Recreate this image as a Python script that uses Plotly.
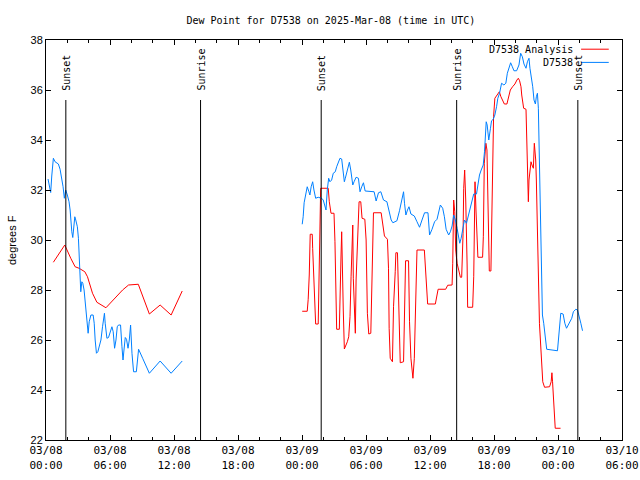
import pandas as pd
import plotly.graph_objects as go

base = pd.Timestamp("2025-03-08 00:00")

# ---- data (hours after 2025-03-08 00:00 UTC, dew point degF) ----
obs1_h = [0.19, 0.28, 0.44, 0.54, 0.69, 0.85, 1.01, 1.16, 1.32, 1.48, 1.60, 1.72, 1.85, 2.00, 2.16,
          2.26, 2.32, 2.42, 2.51, 2.61, 2.70, 2.79, 2.94, 3.04, 3.10, 3.20, 3.26, 3.36, 3.45, 3.57,
          3.67, 3.76, 3.86, 3.95, 4.05, 4.21, 4.42, 4.52, 4.61, 4.73, 4.86, 4.99, 5.15, 5.30, 5.48,
          5.55, 5.71, 5.86, 5.99, 6.18, 6.30, 6.43, 6.56, 6.68, 6.80, 6.99, 7.12, 7.22, 7.31, 7.43,
          7.55, 7.69, 7.81, 7.93, 8.06, 8.21, 8.47, 8.59, 8.68, 9.06, 9.69, 10.70, 11.73, 12.77]
obs1_v = [32.44, 32.27, 31.9, 32.56, 33.27, 33.13, 33.07, 33.04, 32.83, 32.47, 32.13, 31.67, 32.0, 31.8, 31.53,
          31.2, 30.8, 30.33, 30.1, 30.73, 30.93, 30.8, 30.53, 30.07, 29.27, 28.4, 27.93, 28.33, 28.27, 28.0,
          27.6, 27.2, 26.73, 26.27, 26.73, 27.0, 27.0, 26.67, 26.0, 25.47, 25.53, 25.73, 26.0, 26.53, 27.07,
          26.67, 26.07, 26.1, 26.27, 26.53, 26.33, 25.67, 26.0, 26.53, 26.6, 26.6, 25.73, 25.2, 25.6, 26.1,
          26.03, 25.67, 26.0, 26.6, 25.47, 24.73, 24.73, 25.4, 25.63, 25.27, 24.67, 25.16, 24.67, 25.16]

ana1_h = [0.69, 1.76, 2.32, 2.73, 3.10, 3.64, 3.89, 4.36, 4.77, 5.62, 7.18, 7.74, 8.65, 9.69, 10.70, 11.73, 12.77]
ana1_v = [29.11, 29.8, 29.27, 28.93, 28.87, 28.73, 28.53, 27.87, 27.51, 27.29, 28.0, 28.2, 28.23, 27.04, 27.4, 27.0, 27.96]

obs2_h = [24.02, 24.11, 24.20, 24.34, 24.49, 24.65, 24.74, 24.86, 25.00, 25.12, 25.28, 25.52, 25.84, 25.99, 26.15,
          26.25, 26.37, 26.50, 26.62, 26.78, 26.93, 27.12, 27.25, 27.40, 27.56, 27.72, 27.82, 27.97, 28.06, 28.19,
          28.34, 28.44, 28.57, 28.66, 28.76, 28.88, 29.07, 29.29, 29.44, 29.60, 29.76, 29.92, 30.39, 30.76, 30.95,
          31.17, 31.39, 31.64, 31.96, 32.17, 32.36, 32.52, 32.90, 33.14, 33.37, 33.52, 33.61, 33.74, 33.89, 34.03,
          34.21, 34.53, 34.78, 35.02, 35.25, 35.49, 35.81, 35.96, 36.19, 36.43, 36.66, 36.81, 36.97, 37.19, 37.35,
          37.51, 37.75, 37.91, 38.07, 38.22, 38.38, 38.54, 38.69, 38.79, 38.92, 39.11, 39.23, 39.42, 39.73, 39.86,
          39.95, 40.10, 40.36, 40.48, 40.64, 40.80, 40.99, 41.11, 41.20, 41.27, 41.36, 41.51, 41.67, 41.77, 41.93,
          42.08, 42.24, 42.36, 42.52, 42.71, 42.93, 43.11, 43.25, 43.40, 43.56, 43.72, 43.87, 44.12, 44.34, 44.50,
          44.66, 44.81, 45.00, 45.13, 45.28, 45.37, 45.50, 45.63, 45.75, 45.88, 45.97, 46.07, 46.16, 46.22, 46.28,
          46.35, 46.38, 46.44, 46.54, 46.66, 46.82, 46.94, 47.95, 48.07, 48.26, 48.48, 48.64, 48.80, 49.04, 49.29,
          49.44, 49.67, 49.83, 49.98, 50.14, 50.30]
obs2_v = [30.63, 30.93, 31.49, 31.87, 32.13, 31.93, 31.8, 32.13, 32.33, 32.0, 31.67, 31.71, 31.67, 31.6, 31.27,
          31.2, 32.0, 32.47, 32.33, 32.4, 32.67, 32.73, 32.93, 33.13, 33.27, 33.24, 32.93, 32.33, 32.47, 32.67,
          32.93, 33.11, 32.8, 32.47, 32.2, 32.33, 32.51, 32.47, 31.93, 32.13, 32.29, 31.96, 31.96, 31.93, 31.56,
          31.89, 31.93, 31.6, 31.53, 31.07, 30.8, 30.69, 30.77, 31.17, 31.67, 31.93, 31.47, 31.0, 31.2, 31.33,
          31.04, 30.96, 30.73, 30.51, 30.8, 31.09, 31.09, 30.2, 30.43, 30.73, 30.83, 31.13, 31.4, 31.27, 30.93,
          30.43, 30.2, 30.33, 30.56, 31.0, 30.8, 30.47, 30.07, 29.87, 30.07, 30.53, 30.8, 30.67, 31.2, 31.47,
          31.6, 31.84, 31.84, 32.13, 32.6, 32.8, 33.0, 33.53, 34.2, 34.73, 34.6, 34.0, 34.47, 34.77, 34.83,
          35.0, 35.33, 35.67, 35.87, 36.27, 36.2, 36.27, 36.67, 36.87, 37.09, 36.93, 36.77, 36.77, 37.0, 37.47,
          37.33, 37.04, 36.87, 37.13, 37.27, 36.87, 36.53, 36.13, 35.6, 35.44, 35.73, 35.87, 35.27, 34.0, 32.4,
          31.07, 30.0, 28.4, 27.0, 26.67, 26.13, 25.63, 25.57, 26.27, 27.07, 27.04, 26.67, 26.47, 26.64, 26.87,
          27.13, 27.23, 27.2, 26.87, 26.67, 26.37]

ana2_h = [24.02, 24.49, 24.58, 24.68, 24.77, 24.96, 25.00, 25.12, 25.28, 25.52, 25.59, 25.68, 25.75, 26.46, 26.56,
          26.72, 27.00, 27.09, 27.19, 27.25, 27.50, 27.56, 27.66, 27.72, 27.78, 27.87, 27.97, 28.13, 28.25, 28.38,
          28.50, 28.60, 28.69, 28.76, 28.81, 28.91, 29.00, 29.07, 29.23, 29.35, 29.51, 29.63, 29.89, 30.01, 30.13,
          30.26, 30.45, 30.57, 30.70, 31.42, 31.58, 31.73, 32.01, 32.11, 32.17, 32.27, 32.48, 32.58, 32.74, 32.80,
          32.95, 33.05, 33.21, 33.52, 33.61, 33.71, 33.99, 34.08, 34.21, 34.40, 34.53, 34.65, 34.71, 34.78, 35.47,
          35.63, 35.78, 36.50, 36.66, 36.76, 37.47, 37.66, 38.07, 38.13, 38.22, 38.32, 38.41, 38.54, 38.69, 38.85,
          38.97, 39.03, 39.10, 39.16, 39.25, 39.35, 39.42, 39.48, 39.53, 40.00, 40.10, 40.16, 40.22, 40.31, 40.40,
          40.49, 40.93, 41.00, 41.09, 41.24, 41.34, 41.40, 41.46, 41.56, 41.71, 41.77, 41.87, 41.96, 42.08, 42.27,
          42.50, 42.65, 42.81, 42.97, 43.21, 43.34, 43.53, 43.74, 43.96, 44.15, 44.28, 44.40, 44.53, 44.60, 44.69,
          44.78, 45.00, 45.06, 45.16, 45.22, 45.28, 45.37, 45.47, 45.56, 45.69, 45.78, 45.84, 45.91, 45.97, 46.03,
          46.16, 46.26, 46.35, 46.44, 46.57, 46.74, 47.21, 47.36, 47.43, 47.49, 47.59, 47.64, 47.74, 48.24]
ana2_v = [27.15, 27.15, 27.63, 28.6, 30.23, 30.23, 29.67, 28.47, 26.64, 26.64, 28.0, 30.73, 32.07, 32.07, 31.53,
          31.07, 31.07, 29.93, 27.6, 26.43, 26.43, 28.0, 29.4, 30.33, 28.67, 27.2, 25.64, 25.8, 25.93, 26.13,
          26.93, 28.53, 29.87, 30.6, 28.47, 27.07, 26.27, 28.4, 30.07, 31.53, 31.53, 30.87, 30.83, 30.0, 27.07,
          26.24, 26.27, 28.4, 31.09, 31.09, 30.53, 30.16, 30.03, 28.87, 26.47, 25.27, 25.13, 27.33, 28.73, 29.49,
          29.49, 28.13, 25.09, 25.13, 27.33, 29.17, 29.17, 26.73, 25.27, 24.47, 25.27, 27.07, 28.73, 29.6, 29.6,
          28.56, 27.44, 27.44, 27.87, 28.03, 28.03, 28.19, 28.2, 29.07, 31.6, 31.13, 29.6, 29.07, 28.8, 28.51,
          28.51, 29.2, 30.27, 32.07, 32.8, 31.6, 30.4, 29.0, 27.31, 27.31, 28.53, 30.8, 32.33, 31.2, 29.87,
          29.31, 29.31, 30.13, 33.07, 33.87, 33.6, 32.27, 29.6, 28.76, 28.76, 30.0, 32.4, 34.93, 35.67, 35.8,
          35.93, 35.73, 35.57, 35.44, 35.44, 35.71, 36.0, 36.13, 36.24, 36.4, 36.47, 36.37, 36.13, 35.8, 35.47,
          35.27, 35.23, 34.4, 32.53, 31.53, 32.4, 32.93, 33.13, 33.0, 32.87, 33.87, 33.6, 33.2, 32.4, 31.07,
          28.53, 26.67, 26.0, 25.0, 24.33, 24.11, 24.13, 24.33, 24.69, 24.33, 23.6, 22.87, 22.47, 22.47]

event_labels = ["Sunset", "Sunrise", "Sunset", "Sunrise", "Sunset"]
event_h = [1.86, 14.49, 25.80, 38.50, 49.86]

tick_h = [0, 6, 12, 18, 24, 30, 36, 42, 48, 54]
tick_text = ["03/08<br>00:00", "03/08<br>06:00", "03/08<br>12:00", "03/08<br>18:00",
             "03/09<br>00:00", "03/09<br>06:00", "03/09<br>12:00", "03/09<br>18:00",
             "03/10<br>00:00", "03/10<br>06:00"]
y_ticks = [22, 24, 26, 28, 30, 32, 34, 36, 38]

RED = "#ff0000"
BLUE = "#0080ff"
MONO = "DejaVu Sans Mono"
SANS = "Liberation Sans"


def t(hours):
    return [base + pd.Timedelta(hours=h) for h in hours]


fig = go.Figure()
fig.add_trace(go.Scatter(x=t(ana1_h), y=ana1_v, mode="lines", line=dict(color=RED, width=1),
                         name="D7538 Analysis", showlegend=False))
fig.add_trace(go.Scatter(x=t(ana2_h), y=ana2_v, mode="lines", line=dict(color=RED, width=1),
                         name="D7538 Analysis", showlegend=False))
fig.add_trace(go.Scatter(x=t(obs1_h), y=obs1_v, mode="lines", line=dict(color=BLUE, width=1),
                         name="D7538", showlegend=False))
fig.add_trace(go.Scatter(x=t(obs2_h), y=obs2_v, mode="lines", line=dict(color=BLUE, width=1),
                         name="D7538", showlegend=False))

shapes = []
annotations = []
for lab, h in zip(event_labels, event_h):
    ts = base + pd.Timedelta(hours=h)
    shapes.append(dict(type="line", xref="x", yref="y", x0=ts, x1=ts, y0=22, y1=35.6,
                       line=dict(color="black", width=1)))
    annotations.append(dict(x=ts, y=35.88, xref="x", yref="y", text=lab, textangle=-90,
                            showarrow=False, xanchor="center", yanchor="bottom",
                            font=dict(family=MONO, size=10, color="black")))

# gnuplot-style legend (text left of sample line), top right inside
leg = [("D7538 Analysis", RED, 0.977), ("D7538", BLUE, 0.944)]
for name, col, yy in leg:
    annotations.append(dict(x=0.918, y=yy, xref="paper", yref="paper", text=name, showarrow=False,
                            xanchor="right", yanchor="middle",
                            font=dict(family=MONO, size=10, color="black")))
    shapes.append(dict(type="line", xref="paper", yref="paper", x0=0.929, x1=0.977, y0=yy, y1=yy,
                       line=dict(color=col, width=1)))

annotations.append(dict(x=-0.059, y=0.5, xref="paper", yref="paper", text="degrees F", textangle=-90,
                        showarrow=False, xanchor="center", yanchor="middle",
                        font=dict(family=SANS, size=11, color="black")))

fig.update_layout(
    width=640, height=480,
    margin=dict(l=46, r=18, t=40, b=40, autoexpand=False),
    paper_bgcolor="white", plot_bgcolor="white",
    title=dict(text="Dew Point for D7538 on 2025-Mar-08 (time in UTC)", x=0.517, xanchor="center",
               y=0.958, yanchor="middle", font=dict(family=MONO, size=10, color="black")),
    shapes=shapes, annotations=annotations, showlegend=False,
)
fig.update_xaxes(
    type="date", range=[base, base + pd.Timedelta(hours=54)], automargin=False,
    tickvals=t(tick_h), ticktext=tick_text, ticklabeloverflow="allow",
    ticks="inside", ticklen=5, tickcolor="black", tickwidth=1,
    minor=dict(dtick=2 * 3600 * 1000, tick0=base, ticks="inside", ticklen=3, tickcolor="black", tickwidth=1,
               showgrid=False),
    showgrid=False, zeroline=False, showline=True, linecolor="black", linewidth=1, mirror="ticks",
    tickfont=dict(family=MONO, size=11, color="black"),
)
fig.update_yaxes(
    range=[22, 38], tickvals=y_ticks, automargin=False,
    ticks="inside", ticklen=5, tickcolor="black", tickwidth=1,
    showgrid=False, zeroline=False, showline=True, linecolor="black", linewidth=1, mirror="ticks",
    tickfont=dict(family=SANS, size=11, color="black"),
)

# remove the page's default 8px body margin and scrollbars so the 640x480 figure fills the window
fig.write_html("out.html", config={"displayModeBar": False},
               post_script="document.body.style.margin='0';document.body.style.overflow='hidden';")
